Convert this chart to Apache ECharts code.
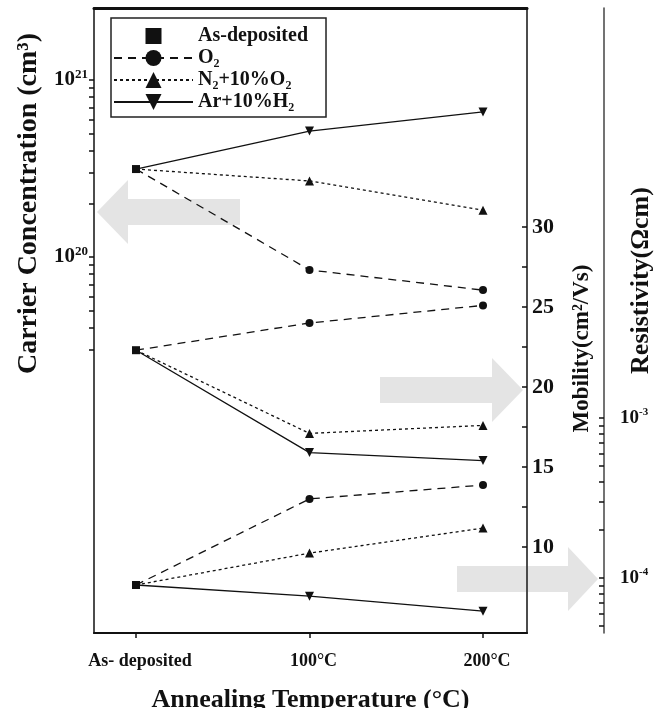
<!DOCTYPE html>
<html>
<head>
<meta charset="utf-8">
<script src="https://cdn.jsdelivr.net/npm/echarts@6/dist/echarts.min.js"></script>
<style>
  html, body { margin: 0; padding: 0; background: #fff; }
  #chart { width: 667px; height: 708px; }
</style>
</head>
<body>
<div id="chart"></div>
<script>
var categories = ['As- deposited', '100°C', '200°C'];

// carrier concentration (cm^-3), first value = as-deposited
var carrierO2 = [3.14e20, 8.45e19, 6.5e19];
var carrierN2 = [3.14e20, 2.69e20, 1.84e20];
var carrierAr = [3.14e20, 5.15e20, 6.6e20];
// mobility (cm2/Vs)
var mobilityO2 = [22.3, 24.0, 25.1];
var mobilityN2 = [22.3, 17.1, 17.6];
var mobilityAr = [22.3, 15.9, 15.4];
// resistivity (ohm cm)
var resistO2 = [9.04e-5, 3.12e-4, 3.81e-4];
var resistN2 = [9.04e-5, 1.43e-4, 2.05e-4];
var resistAr = [9.04e-5, 7.7e-5, 6.2e-5];

var carrierTicks = [3e19, 4e19, 5e19, 6e19, 7e19, 8e19, 9e19, 1e20, 2e20, 3e20, 4e20, 5e20, 6e20, 7e20, 8e20, 9e20, 1e21];
var carrierLabels = [1e20, 1e21];
var mobilityTicks = [10, 12.5, 15, 17.5, 20, 22.5, 25, 27.5, 30];
var mobilityLabels = [10, 15, 20, 25, 30];
var resistTicks = [5e-5, 6e-5, 7e-5, 8e-5, 9e-5, 1e-4, 2e-4, 3e-4, 4e-4, 5e-4, 6e-4, 7e-4, 8e-4, 9e-4, 1e-3];
var resistLabels = [1e-4, 1e-3];

var serif = 'Liberation Serif';
var ink = '#111';

var myChart = echarts.init(document.getElementById('chart'));

function powLabel(v) {
  var e = Math.round(Math.log10(v));
  return '{a|10}{b|' + e + '}';
}

function lineSeries(name, values, yIdx, dash, symbol, rotate, size) {
  return {
    type: 'line',
    name: name,
    yAxisIndex: yIdx,
    data: values.map(function (v, i) {
      return i === 0 ? { value: [i, v], symbol: 'none' } : [i, v];
    }),
    symbol: symbol,
    symbolRotate: rotate,
    symbolSize: size,
    lineStyle: { color: ink, width: 1.3, type: dash },
    itemStyle: { color: ink },
    z: 3
  };
}

function asDepSeries(value, yIdx) {
  return {
    type: 'line',
    name: 'As-deposited',
    yAxisIndex: yIdx,
    data: [[0, value]],
    symbol: 'rect',
    symbolSize: 8,
    lineStyle: { width: 0 },
    itemStyle: { color: ink },
    z: 4
  };
}

var series = [];
[[carrierO2, carrierN2, carrierAr, 0], [mobilityO2, mobilityN2, mobilityAr, 1], [resistO2, resistN2, resistAr, 2]].forEach(function (g) {
  series.push(lineSeries('O₂', g[0], g[3], [8, 6], 'circle', 0, 8));
  series.push(lineSeries('N₂+10%O₂', g[1], g[3], [3, 3], 'triangle', 0, 9));
  series.push(lineSeries('Ar+10%H₂', g[2], g[3], 'solid', 'triangle', 180, 9));
  series.push(asDepSeries(g[0][0], g[3]));
});

function arrow(tailX, headX, tipX, cy) {
  var sh = 13, hh = 32;
  return {
    type: 'polygon',
    z: -1,
    shape: {
      points: [[tailX, cy - sh], [headX, cy - sh], [headX, cy - hh], [tipX, cy], [headX, cy + hh], [headX, cy + sh], [tailX, cy + sh]]
    },
    style: { fill: '#e4e4e4' }
  };
}

var nameStyle = { fontFamily: serif, fontWeight: 'bold', color: ink };

var option = {
  backgroundColor: '#fff',
  animation: false,
  grid: {
    left: 94, top: 8, width: 433, height: 625,
    outerBoundsMode: 'none',
    containLabel: false,
    show: true, borderColor: '#333', borderWidth: 1.5
  },
  legend: {
    left: 111, top: 18,
    orient: 'vertical',
    selectedMode: false,
    data: ['As-deposited', 'O₂', 'N₂+10%O₂', 'Ar+10%H₂'],
    itemWidth: 79, itemHeight: 20, itemGap: 2,
    padding: [8, 18, 5, 2],
    borderColor: '#222', borderWidth: 1.5,
    backgroundColor: '#fff',
    textStyle: { fontFamily: serif, fontWeight: 'bold', fontSize: 20, color: ink }
  },
  xAxis: [{
    type: 'value',
    min: -0.2421, max: 2.2536,
    axisLine: { onZero: false, lineStyle: { color: ink, width: 2 } },
    axisTick: { customValues: [0, 1, 2], length: 5, lineStyle: { color: ink, width: 1.5 } },
    axisLabel: {
      customValues: [0, 1, 2], margin: 19, padding: [0, 0, 0, 8],
      formatter: function (v) { return categories[Math.round(v)]; },
      fontFamily: serif, fontWeight: 'bold', fontSize: 18, color: ink
    },
    splitLine: { show: false },
    name: 'Annealing Temperature (°C)',
    nameLocation: 'middle', nameGap: 54, nameMoveOverlap: false,
    nameTextStyle: Object.assign({ fontSize: 26 }, nameStyle)
  }, {
    type: 'value', position: 'top',
    min: -0.2421, max: 2.2536,
    axisLine: { onZero: false, lineStyle: { color: ink, width: 3 } },
    axisTick: { show: false }, axisLabel: { show: false }, splitLine: { show: false }
  }],
  yAxis: [{
    type: 'log', logBase: 10,
    position: 'left',
    min: 7.51e17, max: 2.552e21,
    axisLine: { show: true, onZero: false, lineStyle: { color: '#444', width: 1.5 } },
    axisTick: { customValues: carrierTicks, length: 5, lineStyle: { color: ink, width: 1.5 } },
    axisLabel: {
      customValues: carrierLabels, margin: 6, formatter: powLabel,
      rich: {
        a: { fontFamily: serif, fontWeight: 'bold', fontSize: 21, color: ink, lineHeight: 24 },
        b: { fontFamily: serif, fontWeight: 'bold', fontSize: 13, color: ink, verticalAlign: 'top', lineHeight: 14 }
      }
    },
    splitLine: { show: false },
    minorTick: { show: false },
    name: 'Carrier Concentration (cm³)',
    nameLocation: 'middle', nameRotate: 90, nameGap: 51, nameMoveOverlap: false,
    nameTextStyle: Object.assign({ fontSize: 28, padding: [0, 0, 0, 234] }, nameStyle)
  }, {
    type: 'value',
    position: 'right',
    min: 4.625, max: 43.6875,
    axisLine: { show: true, onZero: false, lineStyle: { color: '#444', width: 1.5 } },
    axisTick: { customValues: mobilityTicks, inside: true, length: 5, lineStyle: { color: ink, width: 1.5 } },
    axisLabel: {
      customValues: mobilityLabels, margin: 5,
      fontFamily: serif, fontWeight: 'bold', fontSize: 22, color: ink
    },
    splitLine: { show: false },
    name: 'Mobility(cm²/Vs)',
    nameLocation: 'middle', nameRotate: 90, nameGap: 44, nameMoveOverlap: false,
    nameTextStyle: Object.assign({ fontSize: 23, padding: [0, 56, 0, 0] }, nameStyle)
  }, {
    type: 'log', logBase: 10,
    position: 'right', offset: 77,
    min: 4.53e-5, max: 0.365,
    axisLine: { show: true, onZero: false, lineStyle: { color: '#444', width: 1.5 } },
    axisTick: { customValues: resistTicks, inside: true, length: 5, lineStyle: { color: ink, width: 1.5 } },
    axisLabel: {
      customValues: resistLabels, margin: 16, formatter: powLabel,
      rich: {
        a: { fontFamily: serif, fontWeight: 'bold', fontSize: 19, color: ink, lineHeight: 22 },
        b: { fontFamily: serif, fontWeight: 'bold', fontSize: 11, color: ink, verticalAlign: 'top', lineHeight: 12 }
      }
    },
    splitLine: { show: false },
    minorTick: { show: false },
    name: 'Resistivity(Ωcm)',
    nameLocation: 'middle', nameRotate: 90, nameGap: 24, nameMoveOverlap: false,
    nameTextStyle: Object.assign({ fontSize: 26, padding: [0, 0, 0, 80] }, nameStyle)
  }],
  graphic: [
    arrow(240, 128, 97, 212),
    arrow(380, 492, 523, 390),
    arrow(457, 568, 598, 579)
  ],
  series: series
};

myChart.setOption(option);
</script>
</body>
</html>
